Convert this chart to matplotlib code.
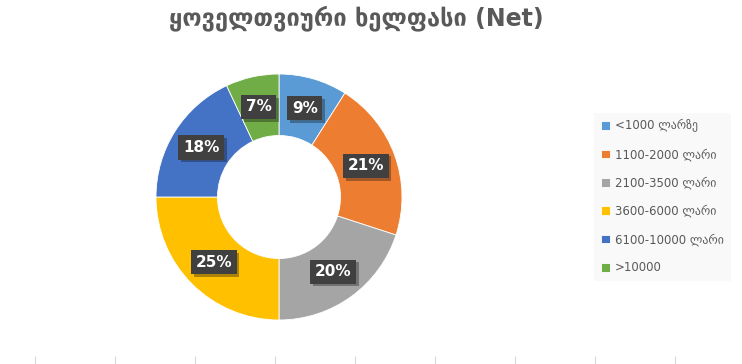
import matplotlib
matplotlib.use("Agg")
import matplotlib.pyplot as plt
import matplotlib.patheffects as pe
import numpy as np

plt.rcParams['font.family'] = ['DejaVu Sans']

# salary groups and their shares (%)
categories = ["<1000 ლარზე", "1100-2000 ლარი", "2100-3500 ლარი",
              "3600-6000 ლარი", "6100-10000 ლარი", ">10000"]
shares = [9, 21, 20, 25, 18, 7]
colors = ["#5B9BD5", "#ED7D31", "#A5A5A5", "#FFC000", "#4472C4", "#70AD47"]
title = "ყოველთვიური ხელფასი (Net)"

W, H = 742, 364
fig = plt.figure(figsize=(W / 100, H / 100), dpi=100)

# donut: centre (279, 197) px, outer radius 123 px
cx, cy, r = 279, 197, 123
ax = fig.add_axes([(cx - r) / W, (H - cy - r) / H, 2 * r / W, 2 * r / H])
wedges, _ = ax.pie(shares, colors=colors, startangle=90, counterclock=False,
                   radius=1, wedgeprops=dict(width=0.5, edgecolor="white", linewidth=0.6))
ax.set_xlim(-1, 1)
ax.set_ylim(-1, 1)
ax.set_aspect("equal")
ax.axis("off")

# percentage labels in dark boxes
cum = np.cumsum([0] + shares[:-1])
for s, c in zip(shares, cum):
    ang = np.deg2rad(90 - (c + s / 2) / sum(shares) * 360)
    t = ax.text(0.75 * np.cos(ang), 0.75 * np.sin(ang), f"{s}%",
                ha="center", va="center", color="white", fontsize=11, fontweight="bold",
                bbox=dict(boxstyle="square,pad=0.3", facecolor="#404040", edgecolor="none"))
    t.get_bbox_patch().set_path_effects([pe.withSimplePatchShadow(offset=(2, -2), alpha=0.35)])

fig.text(0.48, 1 - 18 / H, title, ha="center", va="center", fontsize=17,
         fontweight="bold", color="#595959")

leg = fig.legend(wedges, categories, loc="center left", bbox_to_anchor=(594 / W, 1 - 197 / H),
                 frameon=True, facecolor="#F8F8F8", edgecolor="none", fancybox=False,
                 handlelength=0.75, handleheight=0.75, handletextpad=0.4,
                 labelspacing=1.3, fontsize=8.5, borderpad=0.6, borderaxespad=0)
for txt in leg.get_texts():
    txt.set_color("#595959")

# stray tick marks along the bottom edge
bx = fig.add_axes([35 / W, 0, 80 * 9 / W, 0.001])
bx.set_xlim(0, 9)
bx.set_xticks(range(9))
bx.set_xticklabels([])
bx.set_yticks([])
bx.tick_params(axis="x", length=6, color="#D9D9D9", direction="in", top=False)
for sp in bx.spines.values():
    sp.set_visible(False)
bx.patch.set_alpha(0)

fig.savefig("out.png", dpi=100)
